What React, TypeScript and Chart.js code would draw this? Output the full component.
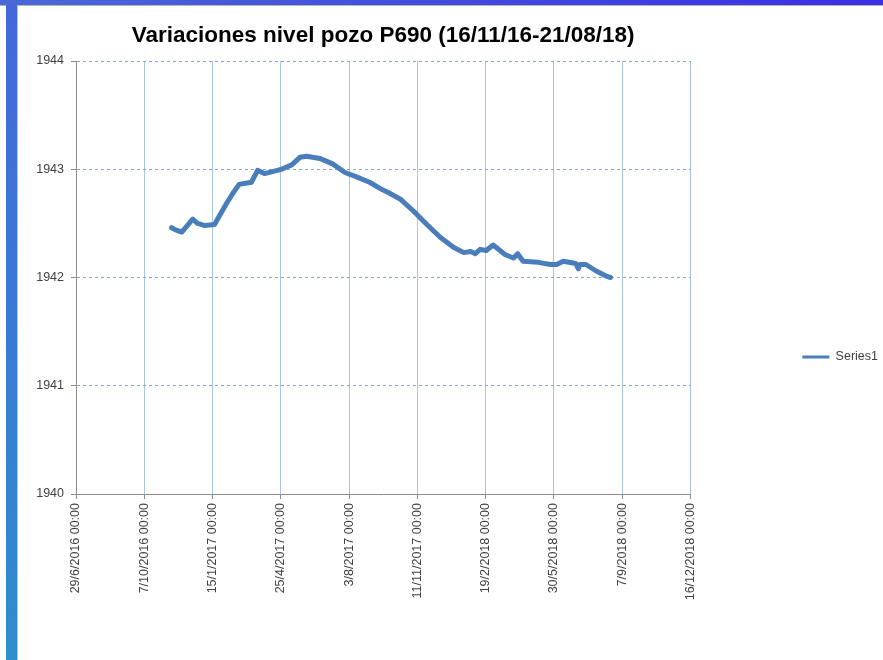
import React, { useEffect, useRef } from 'react';
import { Chart, registerables } from 'chart.js';

Chart.register(...registerables);

const TITLE = 'Variaciones nivel pozo P690 (16/11/16-21/08/18)';
const SERIES_NAME = 'Series1';

const DATES = [
  '2016-11-16', '2016-11-22', '2016-12-01', '2016-12-09', '2016-12-17', '2016-12-24',
  '2017-01-04', '2017-01-18', '2017-01-26', '2017-02-06', '2017-02-14', '2017-02-23',
  '2017-03-13', '2017-03-22', '2017-04-01', '2017-04-20', '2017-04-26', '2017-05-11',
  '2017-05-23', '2017-06-02', '2017-06-21', '2017-07-10', '2017-07-28', '2017-08-14',
  '2017-09-02', '2017-09-21', '2017-09-28', '2017-10-18', '2017-11-06', '2017-11-25',
  '2017-12-15', '2018-01-03', '2018-01-18', '2018-01-28', '2018-02-04', '2018-02-11',
  '2018-02-20', '2018-03-02', '2018-03-20', '2018-04-01', '2018-04-07', '2018-04-15',
  '2018-05-07', '2018-05-25', '2018-06-03', '2018-06-13', '2018-07-01', '2018-07-05',
  '2018-07-07', '2018-07-16', '2018-07-31', '2018-08-16', '2018-08-21',
];

const LEVELS = [
  1942.46, 1942.44, 1942.42, 1942.48, 1942.54, 1942.50,
  1942.48, 1942.49, 1942.58, 1942.70, 1942.78, 1942.86,
  1942.88, 1942.99, 1942.96, 1942.99, 1943.00, 1943.04,
  1943.11, 1943.12, 1943.10, 1943.05, 1942.97, 1942.93,
  1942.88, 1942.81, 1942.79, 1942.72, 1942.61, 1942.49,
  1942.37, 1942.28, 1942.23, 1942.24, 1942.22, 1942.26,
  1942.25, 1942.30, 1942.21, 1942.18, 1942.22, 1942.15,
  1942.14, 1942.12, 1942.12, 1942.15, 1942.13, 1942.08,
  1942.12, 1942.12, 1942.06, 1942.01, 1942.00,
];

const X_MIN_DATE = '2016-06-29';
const X_MAX_DATE = '2018-12-16';
const X_STEP_DAYS = 100;
const Y_MIN = 1940;
const Y_MAX = 1944;
const Y_STEP = 1;

// Excel-style serial day numbers
function toSerial(iso: string): number {
  const [y, m, d] = iso.split('-').map(Number);
  return Date.UTC(y, m - 1, d) / 86400000 + 25569;
}

function serialLabel(v: number): string {
  const dt = new Date((v - 25569) * 86400000);
  return `${dt.getUTCDate()}/${dt.getUTCMonth() + 1}/${dt.getUTCFullYear()} 00:00`;
}

const FONT = 'Liberation Sans, Arial, sans-serif';

export default function App() {
  const ref = useRef<HTMLCanvasElement | null>(null);

  useEffect(() => {
    if (!ref.current) return;
    const points = DATES.map((d, i) => ({ x: toSerial(d), y: LEVELS[i] }));
    const xMin = toSerial(X_MIN_DATE);
    const defaultLabels = (Chart.defaults.plugins.legend.labels as any).generateLabels;
    const chart = new Chart(ref.current, {
      type: 'line',
      data: {
        datasets: [
          {
            label: SERIES_NAME,
            data: points,
            borderColor: '#4a7ebb',
            backgroundColor: '#4a7ebb',
            borderWidth: 5,
            pointRadius: 0,
            tension: 0,
            borderJoinStyle: 'round',
            borderCapStyle: 'round',
          },
        ],
      },
      options: {
        animation: false,
        responsive: false,
        maintainAspectRatio: false,
        layout: { padding: { top: 0, right: -5, bottom: 0, left: 0 } },
        plugins: {
          title: {
            display: true,
            text: TITLE,
            fullSize: false,
            color: '#000000',
            font: { family: FONT, size: 22.5, weight: 'bold', lineHeight: 1.2 },
            padding: { top: 22, bottom: 12 },
          },
          legend: {
            position: 'right',
            title: {
              display: true,
              text: ' ',
              font: { family: FONT, size: 10, lineHeight: 1 },
              padding: { top: 22, bottom: 22 },
            },
            labels: {
              usePointStyle: true,
              pointStyle: 'line',
              pointStyleWidth: 27,
              padding: 112,
              color: '#404040',
              font: { family: FONT, size: 12.5 },
              generateLabels: (c: any) =>
                defaultLabels(c).map((l: any) => ({ ...l, lineWidth: 3 })),
            },
          },
          tooltip: { enabled: false },
        },
        scales: {
          x: {
            type: 'linear',
            min: xMin,
            max: toSerial(X_MAX_DATE),
            afterFit: (s: any) => {
              s.height = 166;
            },
            ticks: {
              stepSize: X_STEP_DAYS,
              autoSkip: false,
              minRotation: 90,
              maxRotation: 90,
              padding: 4,
              color: '#404040',
              font: { family: FONT, size: 12.5 },
              callback: (v: any) => serialLabel(Number(v)),
            },
            grid: {
              color: (c: any) => (c.tick && c.tick.value === xMin ? 'rgba(0,0,0,0)' : '#a9c3e6'),
              lineWidth: 1,
              tickLength: 5,
              tickColor: '#8c8c8c',
            },
            border: { color: '#8c8c8c', width: 1 },
          },
          y: {
            min: Y_MIN,
            max: Y_MAX,
            afterFit: (s: any) => {
              s.width = 76;
            },
            ticks: {
              stepSize: Y_STEP,
              padding: 7,
              color: '#404040',
              font: { family: FONT, size: 12.5 },
              callback: (v: any) => String(v),
            },
            grid: {
              color: (c: any) => (c.tick && c.tick.value === Y_MIN ? 'rgba(0,0,0,0)' : '#7fa8de'),
              lineWidth: 1,
              tickLength: 5,
              tickColor: '#8c8c8c',
              tickBorderDash: [],
            },
            border: { color: '#8c8c8c', width: 1, dash: [3, 3] },
          },
        },
      },
    } as any);
    return () => chart.destroy();
  }, []);

  return (
    <div
      style={{
        position: 'fixed',
        left: 0,
        top: 0,
        width: 883,
        height: 660,
        background: '#ffffff',
        overflow: 'hidden',
      }}
    >
      <canvas ref={ref} width={883} height={660} style={{ position: 'absolute', left: 0, top: 0 }} />
      <div
        style={{
          position: 'absolute',
          left: 0,
          top: 0,
          width: 883,
          height: 5,
          background: 'linear-gradient(to right, #4a68d8, #3a2ee6)',
        }}
      />
      <div
        style={{
          position: 'absolute',
          left: 0,
          top: 5,
          width: 883,
          height: 1,
          background: '#b5b5b5',
        }}
      />
      <div
        style={{
          position: 'absolute',
          left: 6,
          top: 5,
          width: 11,
          height: 655,
          background: 'linear-gradient(to bottom, #4467dc, #2f8ecc)',
        }}
      />
      <div
        style={{
          position: 'absolute',
          left: 17,
          top: 6,
          width: 1,
          height: 654,
          background: '#c0c0c0',
        }}
      />
    </div>
  );
}
